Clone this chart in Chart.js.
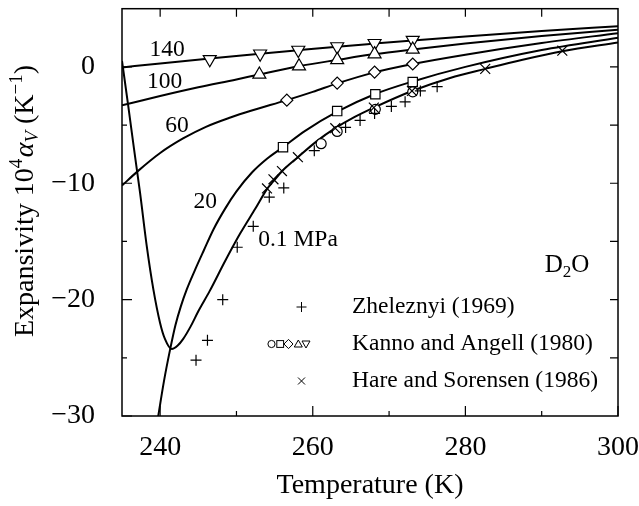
<!DOCTYPE html>
<html><head><meta charset="utf-8">
<script src="https://cdn.jsdelivr.net/npm/chart.js@4/dist/chart.umd.min.js"></script>
<style>html,body{margin:0;padding:0;background:#fff}#wrap{width:639px;height:506px;position:relative}</style>
</head><body><div id="wrap"><canvas id="c" width="639" height="506"></canvas></div>
<script>
// ---------------- data ----------------
const xTickValues = [240, 260, 280, 300];
const xMinorTicks = [250, 270, 290];
const xTopTicks = [240, 250, 260, 270, 280, 290];
const yTickValues = [-30, -20, -10, 0];
const yMinorTicks = [-25, -15, -5];
const yRightTicks = [-25, -20, -15, -10, -5, 0];

// model curves, T in K, expansivity 10^4 alpha_V in 1/K
const curve140T = [235, 240, 246.5, 253.1, 258.1, 263.2, 268.1, 273.1, 280, 290, 300];
const curve140V = [-0.05, 0.3, 0.72, 1.13, 1.43, 1.73, 2.0, 2.27, 2.62, 3.08, 3.5];
const curve100T = [235, 240, 245, 250, 253.0, 258.2, 263.2, 268.1, 273.1, 280, 290, 300];
const curve100V = [-3.3, -2.5, -1.75, -1.08, -0.65, 0.06, 0.6, 1.1, 1.5, 2.0, 2.65, 3.2];
const curve60T = [235, 237, 240, 243, 246, 249.2, 252, 256.6, 260, 263.2, 268.1, 273.1, 280, 290, 300];
const curve60V = [-10.2, -9.0, -7.4, -6.15, -5.15, -4.35, -3.75, -2.86, -2.15, -1.42, -0.47, 0.25, 1.05, 2.05, 2.9];
const curve20T = [239.5, 239.8, 240.5, 241.3, 242.0, 242.7, 243.5, 244.6, 245.7, 247.0, 248.5, 250.0, 252.0, 254.0, 256.1, 259.0, 263.2, 268.1, 273.1, 280, 290, 300];
const curve20V = [-31.0, -29.8, -27.0, -24.3, -22.2, -20.6, -19.1, -17.4, -15.8, -13.95, -12.2, -10.7, -9.1, -7.9, -6.9, -5.5, -3.85, -2.35, -1.25, 0.0, 1.45, 2.5];
const curve01T = [235.0, 235.8, 236.57, 237.36, 238.24, 239.11, 239.99, 240.64, 241.52, 242.3, 243.0, 244.0, 245.0, 246.5, 248.5, 250.5, 252.5, 254.0, 255.0, 256.0, 258.05, 260.5, 262.95, 265.5, 268.0, 273.0, 278, 282.6, 287.5, 292.7, 300];
const curve01V = [0.51, -3.26, -7.03, -10.79, -15.38, -19.12, -22.0, -23.4, -24.25, -23.95, -23.4, -22.3, -21.0, -19.25, -16.7, -14.3, -12.15, -10.5, -9.7, -8.95, -7.76, -6.4, -5.27, -4.3, -3.5, -2.07, -0.95, -0.17, 0.62, 1.35, 2.1];

// measured points
const zheleznyiT = [244.7, 246.2, 248.2, 250.1, 252.2, 254.3, 256.2, 260.2, 264.3, 266.2, 268.1, 270.3, 272.1, 274.1, 276.3];
const zheleznyiV = [-25.2, -23.5, -20.0, -15.5, -13.7, -11.2, -10.4, -7.2, -5.2, -4.6, -4.0, -3.4, -3.0, -2.07, -1.7];
const hareT = [254.0, 254.85, 255.96, 258.05, 262.95, 268.0, 273.0, 282.6, 292.7];
const hareV = [-10.45, -9.66, -8.95, -7.76, -5.27, -3.5, -2.07, -0.17, 1.39];
const kanno01T = [261.1, 263.2, 268.2, 273.1];
const kanno01V = [-6.6, -5.55, -3.65, -2.15];
const kanno20T = [256.1, 263.2, 268.2, 273.1];
const kanno20V = [-6.9, -3.8, -2.35, -1.3];
const kanno60T = [256.6, 263.2, 268.1, 273.1];
const kanno60V = [-2.86, -1.39, -0.45, 0.25];
const kanno100T = [253.0, 258.2, 263.2, 268.1, 273.1];
const kanno100V = [-0.65, 0.06, 0.6, 1.1, 1.5];
const kanno140T = [246.5, 253.1, 258.1, 263.2, 268.1, 273.1];
const kanno140V = [0.65, 1.13, 1.45, 1.75, 2.03, 2.3];

const curveLabels = ['140', '100', '60', '20', '0.1 MPa'];
const legendLabels = ['Zheleznyi (1969)', 'Kanno and Angell (1980)', 'Hare and Sorensen (1986)'];

// ---------------- chart ----------------
const pts = (T, V) => T.map((t, i) => ({x: t, y: V[i]}));
const SERIF = 'Liberation Serif';
Chart.defaults.font.family = SERIF;
Chart.defaults.color = '#000';

function markerSet(T, V, style, radius, rotation) {
  return {data: pts(T, V), showLine: false, pointStyle: style, pointRadius: radius, pointHoverRadius: radius,
    pointRotation: rotation || 0, pointBackgroundColor: '#fff', pointBorderColor: '#000', pointBorderWidth: 1.2};
}
function curveSet(T, V) {
  return {data: pts(T, V), showLine: true, pointRadius: 0, borderColor: '#000', borderWidth: 2,
    cubicInterpolationMode: 'monotone', fill: false};
}

const frame = {
  id: 'frame',
  afterDraw(chart) {
    const {ctx, chartArea: a, scales: {x, y}} = chart;
    ctx.save();
    ctx.strokeStyle = '#000';
    ctx.lineWidth = 1.5;
    ctx.strokeRect(a.left, a.top, a.right - a.left, a.bottom - a.top);
    ctx.lineWidth = 1.2;
    ctx.beginPath();
    xTickValues.forEach(v => { const p = x.getPixelForValue(v); ctx.moveTo(p, a.bottom); ctx.lineTo(p, a.bottom - 10); });
    xMinorTicks.forEach(v => { const p = x.getPixelForValue(v); ctx.moveTo(p, a.bottom); ctx.lineTo(p, a.bottom - 5); });
    xTopTicks.forEach(v => { const p = x.getPixelForValue(v); ctx.moveTo(p, a.top); ctx.lineTo(p, a.top + 8); });
    yTickValues.forEach(v => { const p = y.getPixelForValue(v); ctx.moveTo(a.left, p); ctx.lineTo(a.left + 10, p); });
    yMinorTicks.forEach(v => { const p = y.getPixelForValue(v); ctx.moveTo(a.left, p); ctx.lineTo(a.left + 5, p); });
    yRightTicks.forEach(v => { const p = y.getPixelForValue(v); ctx.moveTo(a.right, p); ctx.lineTo(a.right - 8, p); });
    ctx.stroke();

    // y axis title with super/subscripts
    const pieces = [
      {t: 'Expansivity 10', f: '28px ' + SERIF, dy: 0},
      {t: '4', f: '19px ' + SERIF, dy: -11},
      {t: ' ', f: '6px ' + SERIF, dy: 0},
      {t: 'α', f: 'italic 28px ' + SERIF, dy: 0},
      {t: 'V', f: 'italic 19px ' + SERIF, dy: 5},
      {t: ' (K', f: '28px ' + SERIF, dy: 0},
      {t: '−1', f: '19px ' + SERIF, dy: -11},
      {t: ')', f: '28px ' + SERIF, dy: 0}
    ];
    let total = 0;
    pieces.forEach(p => { ctx.font = p.f; p.w = ctx.measureText(p.t).width; total += p.w; });
    ctx.translate(33, 201);
    ctx.rotate(-Math.PI / 2);
    ctx.fillStyle = '#000';
    ctx.textBaseline = 'alphabetic';
    ctx.textAlign = 'left';
    let cx = -total / 2;
    pieces.forEach(p => { ctx.font = p.f; ctx.fillText(p.t, cx, p.dy); cx += p.w; });
    ctx.restore();

    // curve labels and annotations
    ctx.save();
    ctx.fillStyle = '#000';
    ctx.font = '23.5px ' + SERIF;
    ctx.textBaseline = 'middle';
    ctx.textAlign = 'center';
    const lab = [[240.9, 1.5], [240.6, -1.3], [242.2, -5.1], [245.9, -11.6]];
    lab.forEach((pnt, i) => ctx.fillText(curveLabels[i], x.getPixelForValue(pnt[0]), y.getPixelForValue(pnt[1])));
    ctx.textAlign = 'left';
    ctx.fillText(curveLabels[4], x.getPixelForValue(252.85), y.getPixelForValue(-14.9));

    // D2O
    const dParts = [{t: 'D', f: '25px ' + SERIF, dy: 0}, {t: '2', f: '17px ' + SERIF, dy: 5}, {t: 'O', f: '25px ' + SERIF, dy: 0}];
    let dw = 0;
    dParts.forEach(p => { ctx.font = p.f; p.w = ctx.measureText(p.t).width; dw += p.w; });
    let dx = 567 - dw / 2;
    ctx.textBaseline = 'alphabetic';
    dParts.forEach(p => { ctx.font = p.f; ctx.fillText(p.t, dx, 272 + p.dy); dx += p.w; });

    // legend
    const rows = [307, 344, 381];
    ctx.font = '23.5px ' + SERIF;
    ctx.textBaseline = 'middle';
    legendLabels.forEach((t, i) => ctx.fillText(t, 352, rows[i]));
    ctx.strokeStyle = '#000';
    ctx.lineWidth = 1;
    ctx.beginPath();
    ctx.moveTo(296.5, rows[0]); ctx.lineTo(306.5, rows[0]);
    ctx.moveTo(301.5, rows[0] - 5); ctx.lineTo(301.5, rows[0] + 5);
    ctx.moveTo(298, rows[2] - 3.5); ctx.lineTo(305, rows[2] + 3.5);
    ctx.moveTo(298, rows[2] + 3.5); ctx.lineTo(305, rows[2] - 3.5);
    ctx.stroke();
    const r1 = rows[1];
    ctx.beginPath(); ctx.arc(271.5, r1, 3.6, 0, Math.PI * 2); ctx.stroke();
    ctx.strokeRect(276.8, r1 - 3.4, 6.8, 6.8);
    ctx.beginPath(); ctx.moveTo(288.5, r1 - 4.6); ctx.lineTo(293, r1); ctx.lineTo(288.5, r1 + 4.6); ctx.lineTo(284, r1); ctx.closePath(); ctx.stroke();
    ctx.beginPath(); ctx.moveTo(298.3, r1 - 4); ctx.lineTo(302.3, r1 + 3); ctx.lineTo(294.3, r1 + 3); ctx.closePath(); ctx.stroke();
    ctx.beginPath(); ctx.moveTo(306, r1 + 4); ctx.lineTo(310, r1 - 3); ctx.lineTo(302, r1 - 3); ctx.closePath(); ctx.stroke();
    ctx.restore();
  }
};

new Chart(document.getElementById('c'), {
  type: 'scatter',
  data: {
    datasets: [
      markerSet(hareT, hareV, 'crossRot', 7),
      markerSet(zheleznyiT, zheleznyiV, 'cross', 5.5),
      markerSet(kanno01T, kanno01V, 'circle', 5),
      markerSet(kanno20T, kanno20V, 'rect', 6.6),
      markerSet(kanno60T, kanno60V, 'rectRot', 6),
      markerSet(kanno100T, kanno100V, 'triangle', 7.5),
      markerSet(kanno140T, kanno140V, 'triangle', 7.5, 180),
      curveSet(curve140T, curve140V),
      curveSet(curve100T, curve100V),
      curveSet(curve60T, curve60V),
      curveSet(curve20T, curve20V),
      curveSet(curve01T, curve01V)
    ]
  },
  options: {
    responsive: false,
    animation: false,
    devicePixelRatio: 1,
    layout: {padding: {top: 4, right: 21, left: 0, bottom: 0}},
    plugins: {legend: {display: false}, tooltip: {enabled: false}},
    events: [],
    scales: {
      x: {
        type: 'linear', min: 235, max: 300,
        grid: {display: false}, border: {display: false},
        afterBuildTicks: s => { s.ticks = xTickValues.map(v => ({value: v})); },
        afterFit: s => { s.height = 90; s.paddingLeft = 0; s.paddingRight = 0; s.paddingTop = 0; s.paddingBottom = 0; },
        ticks: {font: {size: 28, family: SERIF}, padding: 7, maxRotation: 0, callback: v => String(v)},
        title: {display: true, text: 'Temperature (K)', font: {size: 28, family: SERIF}, padding: {top: 0, bottom: 4}}
      },
      y: {
        type: 'linear', min: -30, max: 5,
        grid: {display: false}, border: {display: false},
        afterBuildTicks: s => { s.ticks = yTickValues.map(v => ({value: v})); },
        afterFit: s => { s.width = 122; s.paddingLeft = 0; s.paddingRight = 0; s.paddingTop = 0; s.paddingBottom = 0; },
        ticks: {font: {size: 28, family: SERIF}, padding: 19, callback: v => (v < 0 ? '−' + Math.abs(v) : String(v))}
      }
    }
  },
  plugins: [frame]
});
</script></body></html>
